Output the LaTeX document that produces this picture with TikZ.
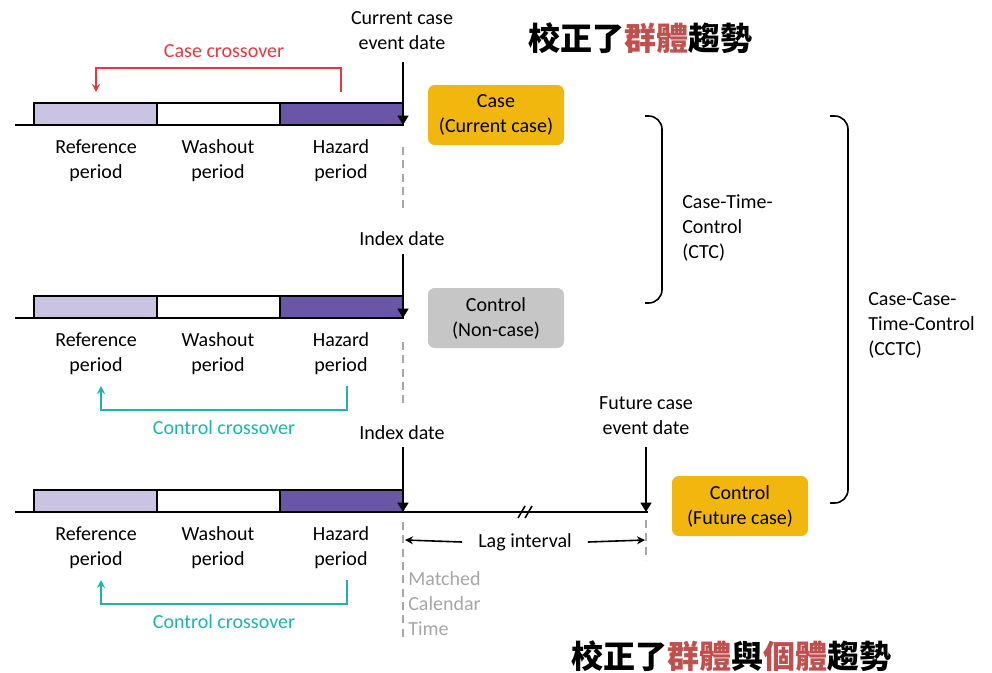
\documentclass[tikz,border=0pt]{standalone}
\usepackage{fontspec}
\setmainfont{Carlito}
\newfontfamily\cjkfont{Noto Sans CJK TC}
\usetikzlibrary{arrows.meta}

\definecolor{refcol}{HTML}{CAC3E2}
\definecolor{hazcol}{HTML}{6A56A6}
\definecolor{boxorange}{HTML}{F2B70F}
\definecolor{boxgray}{HTML}{C6C6C6}
\definecolor{crossred}{HTML}{E8383D}
\definecolor{crossteal}{HTML}{1DB4A9}
\definecolor{titlered}{HTML}{C0504D}
\definecolor{dategray}{HTML}{A6A6A6}

\tikzset{
  txt/.style={align=center, inner sep=0pt, yshift=-1.5pt,
              font=\fontsize{15}{18.75}\selectfont},
  txtl/.style={txt, align=left},
  bar/.style={draw=black, line width=1.5pt},
  axis/.style={draw=black, line width=1.5pt},
  evarrow/.style={line width=2.2pt, -{Triangle[width=8pt,length=7pt]}},
  crossarrow/.style={line width=1.5pt, -{Stealth[width=6pt,length=6pt]}},
  datedash/.style={dategray, line width=1.2pt, dash pattern=on 6pt off 4pt},
  groupbox/.style={txt, yshift=1.5pt, rounded corners=5pt, minimum width=102pt,
                   minimum height=45pt},
  brace/.style={line width=1.2pt, rounded corners=10pt},
  title/.style={inner sep=0pt, font=\cjkfont\bfseries\fontsize{24}{28}\selectfont}
}

\begin{document}
\begin{tikzpicture}[x=0.75pt,y=-0.75pt]

  \useasboundingbox (0,0) rectangle (992,672);

  % drei Zeitachsen: Referenz, Washout, Hazard
  \foreach \r/\y/\e in {1/125/403, 2/318/403, 3/512/648}
  {
    \draw[axis] (15,\y) -- (\e,\y);
    \draw[bar, fill=refcol] (34,\y-22) rectangle (157,\y);
    \draw[bar, fill=white]  (157,\y-22) rectangle (280,\y);
    \draw[bar, fill=hazcol] (280,\y-22) rectangle (403,\y);
    \node[txt] (ref\r) at (96,\y+34)  {Reference\\period};
    \node[txt] (wash\r) at (218,\y+34) {Washout\\period};
    \node[txt] (haz\r) at (341,\y+34) {Hazard\\period};
    \coordinate (ix\r) at (403,\y);
  }

  % Ereignis- und Indexdaten
  \node[txt] (evcur) at (402,29) {Current case\\event date};
  \node[txt] (idx2) at (402,237) {Index date};
  \node[txt] (idx3) at (402,431) {Index date};
  \node[txt] (evfut) at (646,414) {Future case\\event date};
  \coordinate (top1) at (403,62);
  \coordinate (top2) at (403,254);
  \coordinate (top3) at (403,447);
  \coordinate (top4) at (646,447);
  \coordinate (fut) at (646,512);
  \draw[evarrow] (top1) -- (ix1);
  \draw[evarrow] (top2) -- (ix2);
  \draw[evarrow] (top3) -- (ix3);
  \draw[evarrow] (top4) -- (fut);

  % Bruchstelle
  \draw[line width=1.2pt] (518,518) -- (525,506);
  \draw[line width=1.2pt] (525,518) -- (532,506);

  % gestrichelte Kalenderlinien
  \draw[datedash] (403,147) -- (403,210);
  \draw[datedash] (403,342) -- (403,404);
  \draw[datedash] (403,522) -- (403,640);
  \draw[datedash] (646,520) -- (646,560);
  \node[txtl, text=dategray, anchor=north west] (match) at (408,569)
       {Matched\\Calendar\\Time};

  % Lag interval
  \node[txt, inner xsep=12pt] (lag) at (525,540) {Lag interval};
  \coordinate (lagL) at (405,540);
  \coordinate (lagR) at (645,540);
  \draw[crossarrow, line width=1.2pt] (lag.west) -- (lagL);
  \draw[crossarrow, line width=1.2pt] (lag.east) -- (lagR);

  % Crossover-Pfeile
  \node[txt, text=crossred] (cco) at (224,49) {Case crossover};
  \coordinate (cc1s) at (341,92);
  \coordinate (cc1e) at (96,92);
  \draw[crossarrow, crossred] (cc1s) -- ++(0,-24) -| (cc1e);

  \node[txt, text=crossteal] (ctl2) at (224,426) {Control crossover};
  \coordinate (cc2s) at (347,386);
  \coordinate (cc2e) at (101,386);
  \draw[crossarrow, crossteal] (cc2s) -- ++(0,24) -| (cc2e);

  \node[txt, text=crossteal] (ctl3) at (224,620) {Control crossover};
  \coordinate (cc3s) at (347,580);
  \coordinate (cc3e) at (101,580);
  \draw[crossarrow, crossteal] (cc3s) -- ++(0,24) -| (cc3e);

  % Gruppen
  \node[groupbox, fill=boxorange] (case) at (496,115) {Case\\(Current case)};
  \node[groupbox, fill=boxgray] (ctrl) at (496,318) {Control\\(Non-case)};
  \node[groupbox, fill=boxorange] (fctrl) at (740,506) {Control\\(Future case)};

  % Klammern
  \draw[brace] (645,116) -- (662,116) -- (662,303) -- (645,303);
  \node[txtl, anchor=west] (ctc) at (682,226) {Case-Time-\\Control\\(CTC)};
  \draw[brace] (830,116) -- (848,116) -- (848,503) -- (830,503);
  \node[txtl, anchor=west] (cctc) at (868,323) {Case-Case-\\Time-Control\\(CCTC)};

  % Titel
  \node[title] (t1) at (640,38)
       {校正了\textcolor{titlered}{群體}趨勢};
  \node[title] (t2) at (731,656)
       {校正了\textcolor{titlered}{群體}與\textcolor{titlered}{個體}趨勢};

\end{tikzpicture}
\end{document}
